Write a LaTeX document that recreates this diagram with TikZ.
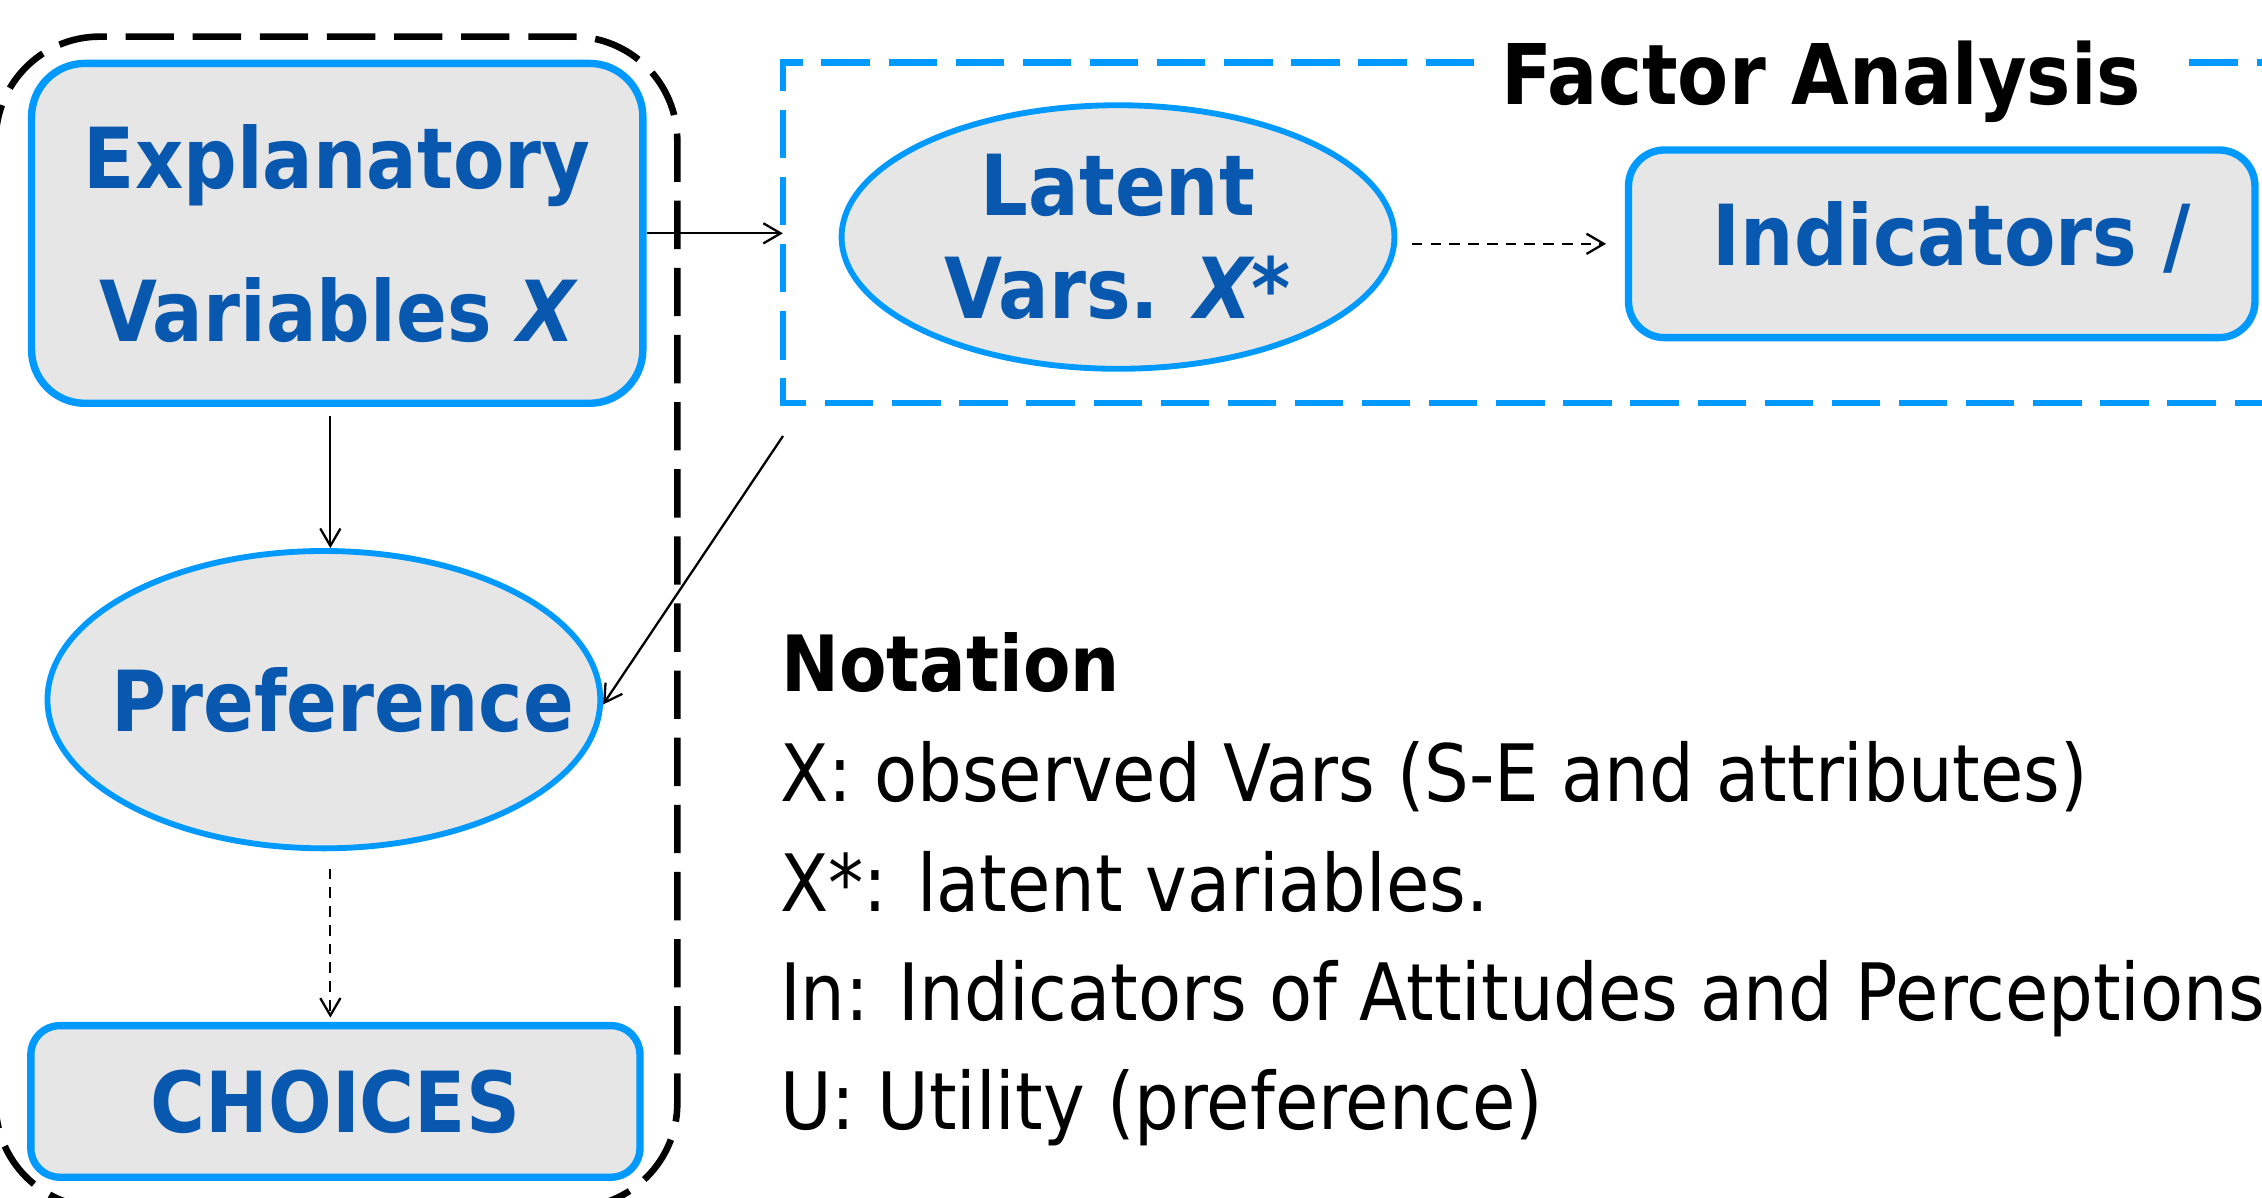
\documentclass[tikz,border=0pt]{standalone}
\usepackage{fontspec}
\setmainfont{DejaVu Sans}
\newfontfamily\dv[FakeStretch=0.89]{DejaVu Sans}
\usetikzlibrary{arrows.meta,shapes.geometric,calc}
\definecolor{bborder}{RGB}{0,153,255}
\definecolor{btext}{RGB}{9,88,176}
\definecolor{bfill}{RGB}{230,230,230}
\begin{document}
\begin{tikzpicture}[x=0.01cm,y=-0.01cm,
  blueshape/.style={draw=bborder, fill=bfill, text=btext, font=\dv\bfseries\fontsize{16.6}{30.2}\selectfont, inner sep=0pt},
  rbox/.style={blueshape, rectangle, line width=1.45pt},
  ell/.style={blueshape, ellipse, line width=1.15pt},
  arr/.style={-{Straight Barb[length=0.12cm,width=0.14cm]}, line width=0.45pt},
  darr/.style={arr, dash pattern=on 0.074cm off 0.056cm},
  bdash/.style={dash pattern=on 0.335cm off 0.13cm},
  nline/.style={anchor=base west, inner sep=0pt, font=\dv\fontsize{15.6}{18}\selectfont}]
\useasboundingbox (0,0) rectangle (1568,830);

% black dashed group frame
\draw[line width=1.3pt, bdash, rounded corners=0.72cm] (-3,25.4) rectangle (469.5,837);

% Factor analysis frame (invisible node, border drawn below)
\node[minimum width=10.57cm, minimum height=2.361cm, inner sep=0pt, outer sep=0pt] (fa) at (1071.5,161.45) {};
\draw[bborder, line width=1.2pt, bdash] ($(fa.north west)+(479,0)$) -- (fa.north west) -- (fa.south west) -- (fa.south east);
\draw[bborder, line width=1.2pt, bdash] ($(fa.north west)+(975,0)$) -- (fa.north east);
\node[anchor=base west, inner sep=0pt, font=\dv\bfseries\fontsize{16.5}{20}\selectfont] (fat) at (1040,72.1) {Factor Analysis};

% nodes
\node[rbox, rounded corners=0.37cm, minimum width=4.235cm, minimum height=2.355cm, align=center] (ex) at (233.75,161.75) {Explanatory\\Variables {\itshape X}};
\node[ell, minimum width=3.83cm, minimum height=2.06cm] (pref) at (224.5,485) {\makebox[0pt]{\hspace*{0.26cm}Preference}};
\node[rbox, rounded corners=0.2cm, minimum width=4.22cm, minimum height=1.05cm] (ch) at (232.5,763.5) {CHOICES};
\node[ell, minimum width=3.83cm, minimum height=1.826cm, align=center, font=\dv\bfseries\fontsize{16.6}{20.2}\selectfont] (lat) at (775,164.3) {Latent\\Vars. {\itshape X*}};
\node[rbox, rounded corners=0.25cm, minimum width=4.34cm, minimum height=1.30cm, text depth=0.14cm] (ind) at (1346,169) {\hspace*{0.14cm}Indicators /};

% notation
\node[anchor=base west, inner sep=0pt, font=\dv\bfseries\fontsize{15.3}{18}\selectfont] (nt) at (541,479.5) {Notation};
\node[nline] (n1) at (540,555.7) {X: observed Vars (S-E and attributes)};
\node[nline] (n2) at (540,631.5) {X*: latent variables.};
\node[nline] (n3) at (540,707.5) {In: Indicators of Attitudes and Perceptions};
\node[nline] (n4) at (540,783) {U: Utility (preference)};

% connectors
\coordinate (xl) at (229,0);
\coordinate (d0) at (542.8,302.2);
\draw[arr] (ex.east) -- (ex.east -| fa.west);
\draw[arr] ($(ex.south -| xl)+(0,6)$) -- (pref.north -| xl);
\draw[arr] (d0) -- (pref.-1);
\draw[darr] ($(ind.west -| lat.east)+(10,0)$) -- ($(ind.west)+(-13,0)$);
\draw[darr] ($(pref.south -| xl)+(0,12)$) -- ($(ch.north -| xl)+(0,-3)$);
\end{tikzpicture}
\end{document}
